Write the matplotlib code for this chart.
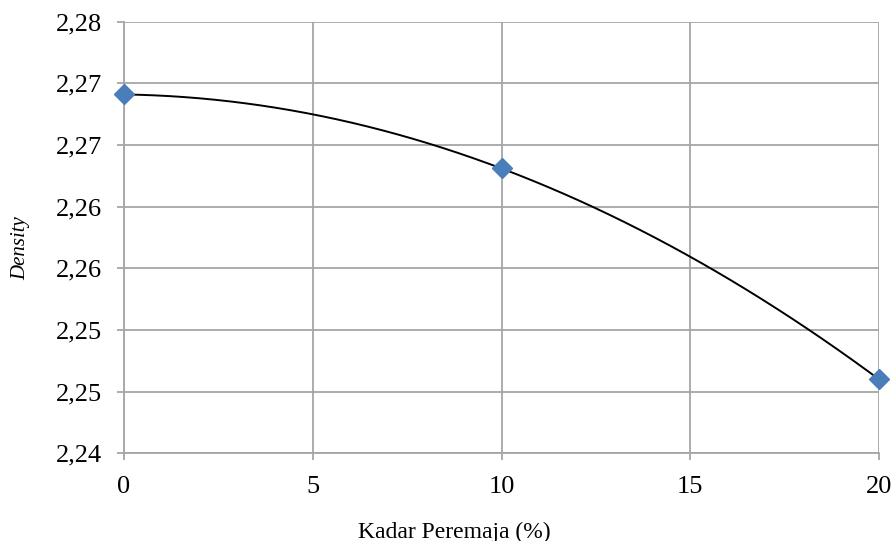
import numpy as np
import matplotlib.pyplot as plt
from matplotlib.ticker import FuncFormatter

plt.rcParams['font.family'] = ['Liberation Serif', 'DejaVu Serif']

# Density vs rejuvenator content
kadar = [0, 10, 20]
density = [2.2691, 2.2631, 2.2460]

x_ticks = [0, 5, 10, 15, 20]
y_ticks = [2.240, 2.245, 2.250, 2.255, 2.260, 2.265, 2.270, 2.275]

W, H = 894, 541
fig = plt.figure(figsize=(W / 100, H / 100), dpi=100)
ax = fig.add_axes([124 / W, 1 - 453.3 / H, (879 - 124) / W, (453.3 - 21.7) / H])

# second-order polynomial trendline through the points
coef = np.polyfit(kadar, density, 2)
xs = np.linspace(min(kadar), max(kadar), 200)
ax.plot(xs, np.polyval(coef, xs), color='black', lw=1.4, zorder=3)

ax.plot(kadar, density, linestyle='None', marker='D', markersize=10.2,
        color='#4a7ebb', markeredgecolor='#4a7ebb', clip_on=False, zorder=4)

ax.set_xlim(0, 20)
ax.set_ylim(2.240, 2.275)
ax.set_xticks(x_ticks)
ax.set_yticks(y_ticks)
ax.yaxis.set_major_formatter(FuncFormatter(lambda v, p: f'{v + 1e-9:.2f}'.replace('.', ',')))

ax.grid(True, color='#a6a6a6', lw=1.3)
ax.set_axisbelow(True)
for side in ['top', 'right']:
    ax.spines[side].set_visible(False)
for side in ['left', 'bottom']:
    ax.spines[side].set_color('#a6a6a6')
    ax.spines[side].set_linewidth(1.3)
ax.tick_params(axis='both', colors='#a6a6a6', length=5, width=1.3,
               labelcolor='black', labelsize=19, pad=11)

# axis titles placed in figure pixels
fig.text(454 / W, 1 - 532 / H, 'Kadar Peremaja (%)', fontsize=17,
         ha='center', va='center')
fig.text(21 / W, 1 - 248 / H, 'Density', fontsize=15, style='italic',
         rotation=90, ha='center', va='center')

fig.savefig('out.png', dpi=100)
